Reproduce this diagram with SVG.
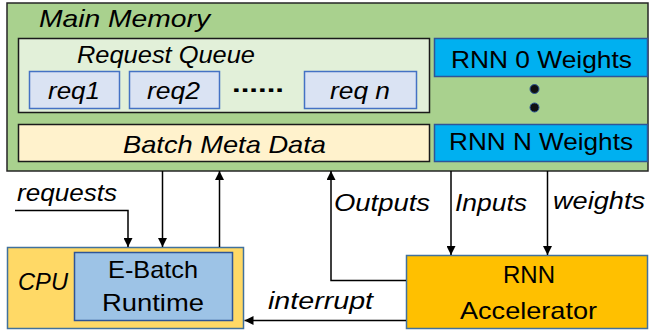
<svg xmlns="http://www.w3.org/2000/svg" width="649" height="333" viewBox="0 0 649 333">
  <defs>
    <marker id="arrow" viewBox="0 0 10 10" refX="10" refY="5" markerWidth="9" markerHeight="9" markerUnits="userSpaceOnUse" orient="auto">
      <path d="M0,0 L10,5 L0,10 z" fill="#000"/>
    </marker>
    <style>
      text { font-family: "Liberation Sans", Arial, sans-serif; font-size: 24px; fill: #000; }
      .it { font-style: italic; }
      .mem { fill: #a9d18e; stroke: #262626; stroke-width: 1.5; }
      .queue { fill: #e2f0d9; stroke: #1a1a1a; stroke-width: 1.5; }
      .req { fill: #dae3f3; stroke: #4472c4; stroke-width: 1.5; }
      .meta { fill: #fff2cc; stroke: #1a1a1a; stroke-width: 1.5; }
      .wt { fill: #00b0f0; stroke: #2f5597; stroke-width: 1.5; }
      .cpu { fill: #ffd966; stroke: #41719c; stroke-width: 1.5; }
      .rt { fill: #9dc3e6; stroke: #2f5597; stroke-width: 1.5; }
      .acc { fill: #ffc000; stroke: #41719c; stroke-width: 1.5; }
      .wire { fill: none; stroke: #000; stroke-width: 1.5; }
    </style>
  </defs>

  <!-- Main memory container -->
  <g id="main-memory">
    <rect class="mem" x="7" y="3" width="641" height="168"/>
    <text class="it" x="39" y="27" textLength="171" lengthAdjust="spacingAndGlyphs">Main Memory</text>
  </g>

  <g id="request-queue">
    <rect class="queue" x="18.5" y="38.5" width="411" height="74"/>
    <text class="it" x="77" y="63" textLength="178" lengthAdjust="spacingAndGlyphs">Request Queue</text>
  </g>

  <g id="req1">
    <rect class="req" x="29.5" y="71.5" width="90" height="37"/>
    <text class="it" x="48" y="99" textLength="52" lengthAdjust="spacingAndGlyphs">req1</text>
  </g>
  <g id="req2">
    <rect class="req" x="129.5" y="71.5" width="90" height="37"/>
    <text class="it" x="147" y="99" textLength="53" lengthAdjust="spacingAndGlyphs">req2</text>
  </g>
  <g id="req-ellipsis">
    <text x="232" y="92" font-weight="bold" textLength="52" lengthAdjust="spacingAndGlyphs">......</text>
  </g>
  <g id="reqn">
    <rect class="req" x="304.5" y="71.5" width="112" height="37"/>
    <text class="it" x="330" y="99" textLength="60" lengthAdjust="spacingAndGlyphs">req n</text>
  </g>

  <g id="batch-meta-data">
    <rect class="meta" x="18.5" y="124.5" width="411" height="37"/>
    <text class="it" x="123" y="153" textLength="203" lengthAdjust="spacingAndGlyphs">Batch Meta Data</text>
  </g>

  <g id="rnn0-weights">
    <rect class="wt" x="434.5" y="38.5" width="213" height="38"/>
    <text x="451" y="68" textLength="181" lengthAdjust="spacingAndGlyphs">RNN 0 Weights</text>
  </g>
  <g id="weights-dots">
    <circle cx="534.5" cy="89" r="4.5" fill="#111" stroke="#2f5597" stroke-width="1"/>
    <circle cx="534.5" cy="107.5" r="4.5" fill="#111" stroke="#2f5597" stroke-width="1"/>
  </g>
  <g id="rnnN-weights">
    <rect class="wt" x="434.5" y="124.5" width="213" height="37"/>
    <text x="449" y="150" textLength="184" lengthAdjust="spacingAndGlyphs">RNN N Weights</text>
  </g>

  <!-- CPU with runtime -->
  <g id="cpu">
    <rect class="cpu" x="7.5" y="247.5" width="236" height="81"/>
    <text class="it" x="18" y="290" textLength="50" lengthAdjust="spacingAndGlyphs">CPU</text>
  </g>
  <g id="ebatch-runtime">
    <rect class="rt" x="74.5" y="252.5" width="158" height="68"/>
    <text x="108" y="278" textLength="90" lengthAdjust="spacingAndGlyphs">E-Batch</text>
    <text x="102" y="311" textLength="102" lengthAdjust="spacingAndGlyphs">Runtime</text>
  </g>

  <g id="rnn-accelerator">
    <rect class="acc" x="406.5" y="255.5" width="241" height="73"/>
    <text x="503" y="283" textLength="52" lengthAdjust="spacingAndGlyphs">RNN</text>
    <text x="460" y="319" textLength="137" lengthAdjust="spacingAndGlyphs">Accelerator</text>
  </g>

  <!-- Connectors -->
  <g id="connectors">
    <polyline class="wire" points="15,210.5 128,210.5 128,247" marker-end="url(#arrow)"/>
    <line class="wire" x1="162.5" y1="171" x2="162.5" y2="247" marker-end="url(#arrow)"/>
    <line class="wire" x1="219.5" y1="247" x2="219.5" y2="171" marker-end="url(#arrow)"/>
    <polyline class="wire" points="406,280.5 331,280.5 331,171" marker-end="url(#arrow)"/>
    <line class="wire" x1="451" y1="171" x2="451" y2="255" marker-end="url(#arrow)"/>
    <line class="wire" x1="547.5" y1="171" x2="547.5" y2="255" marker-end="url(#arrow)"/>
    <line class="wire" x1="406" y1="320.5" x2="244.5" y2="320.5" marker-end="url(#arrow)"/>
  </g>

  <!-- Connector labels -->
  <g id="connector-labels">
    <text class="it" x="17" y="201" textLength="100" lengthAdjust="spacingAndGlyphs">requests</text>
    <text class="it" x="334" y="211" textLength="96" lengthAdjust="spacingAndGlyphs">Outputs</text>
    <text class="it" x="455" y="211" textLength="72" lengthAdjust="spacingAndGlyphs">Inputs</text>
    <text class="it" x="553" y="209" textLength="92" lengthAdjust="spacingAndGlyphs">weights</text>
    <text class="it" x="268" y="309" textLength="105" lengthAdjust="spacingAndGlyphs">interrupt</text>
  </g>
</svg>
